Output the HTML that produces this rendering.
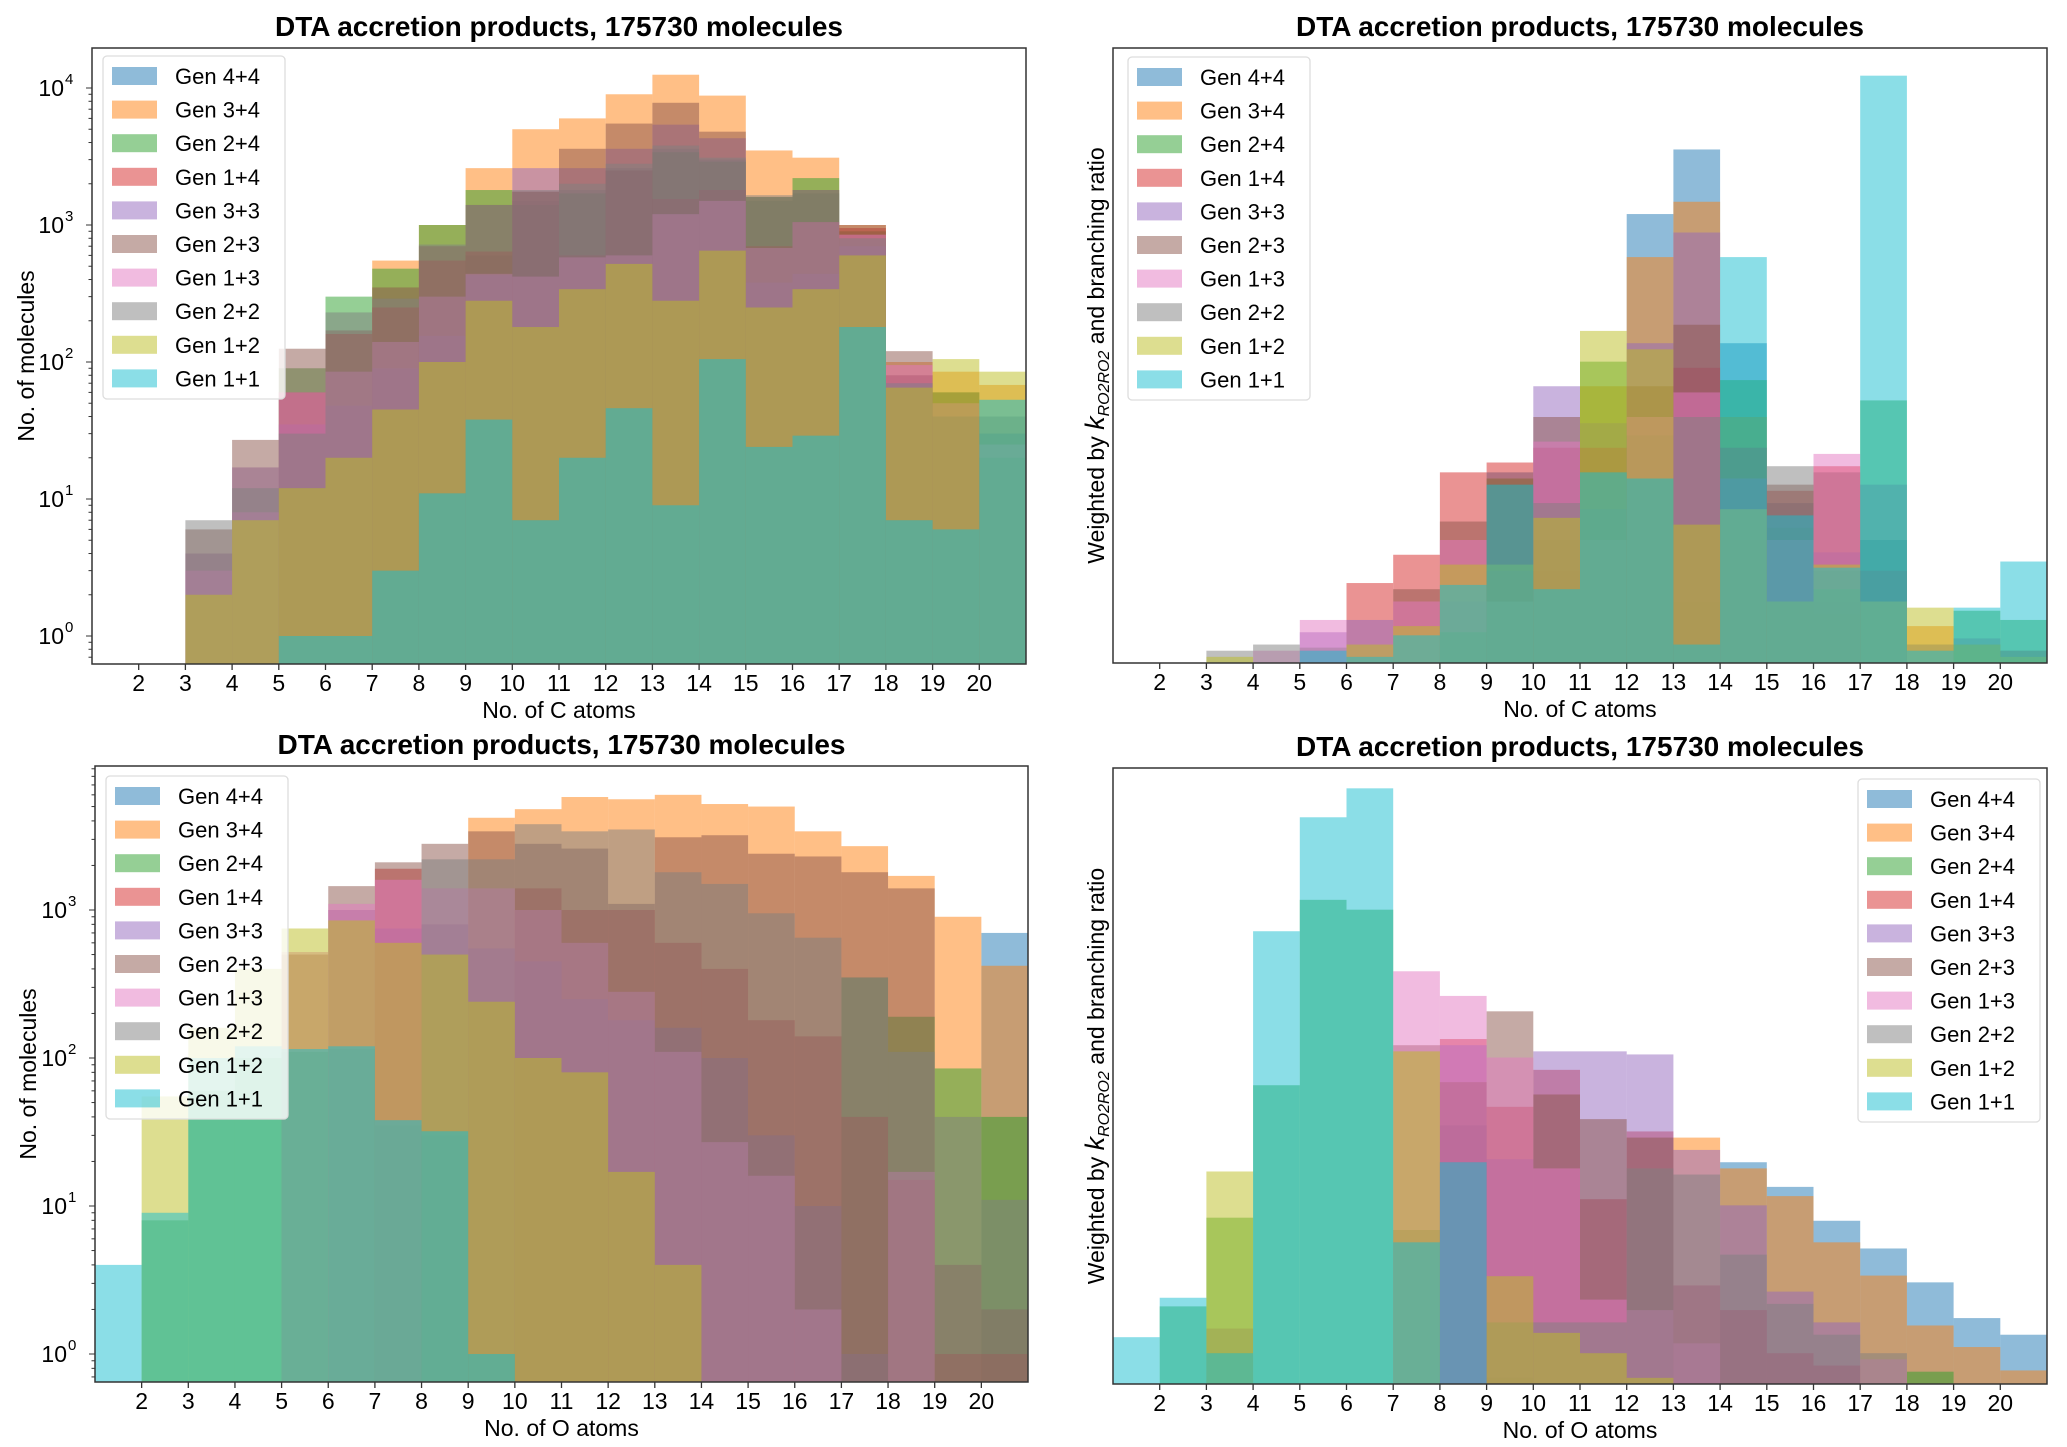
<!DOCTYPE html>
<html><head><meta charset="utf-8">
<style>
html,body{margin:0;padding:0;background:#fff;}
svg{display:block;font-family:"Liberation Sans",sans-serif;}
</style></head>
<body>
<svg id="fig" width="2067" height="1447" viewBox="0 0 2067 1447" xmlns="http://www.w3.org/2000/svg"></svg>
<script>
// ---------- data (bins 1..20) ----------
const labels = ["Gen 4+4","Gen 3+4","Gen 2+4","Gen 1+4","Gen 3+3","Gen 2+3","Gen 1+3","Gen 2+2","Gen 1+2","Gen 1+1"];
const colors = ["#1f77b4","#ff7f0e","#2ca02c","#d62728","#9467bd","#8c564b","#e377c2","#7f7f7f","#bcbd22","#17becf"];
const binStarts = [1,2,3,4,5,6,7,8,9,10,11,12,13,14,15,16,17,18,19,20];
const xTicks = [2,3,4,5,6,7,8,9,10,11,12,13,14,15,16,17,18,19,20];

// Top-left: C atoms, counts (log)
const cG44 = [0,0,0,0,0,0,0,300,600,1500,1800,2600,3600,3000,1500,1700,800,60,40,20];
const cG34 = [0,0,0,0,0,0,550,1000,2600,5000,6000,9000,12500,8800,3500,3100,1000,100,85,68];
const cG24 = [0,0,0,0,90,300,480,1000,1800,1400,1700,2500,3400,2900,1600,2200,900,80,60,30];
const cG14 = [0,0,0,0,60,160,250,550,640,1750,600,2500,1550,1800,700,1050,950,80,40,20];
const cG33 = [0,0,4,17,35,48,90,155,430,2600,2600,3600,5400,4300,380,440,700,70,40,30];
const cG23 = [0,0,6,27,125,170,350,700,1400,1750,3600,5500,7800,4800,1600,1800,1000,120,60,40];
const cG13 = [0,0,3,8,60,85,140,300,440,420,580,600,1200,1500,680,1050,850,95,50,25];
const cG22 = [0,0,7,12,30,230,290,720,1400,1800,2000,2800,3800,3100,1650,1800,800,70,40,20];
const cG12 = [0,0,2,7,12,20,45,100,280,180,340,520,280,650,250,340,600,65,105,85];
const cG11 = [0,0,0,0,1,1,3,11,38,7,20,46,9,105,24,29,180,7,6,53];

// Top-right: C atoms, weighted (relative units, 100 = axis top)
const cwG44 = [0,0,0,0,0,0,0,0,31,10,20,73,83.5,52,26,10,20,0,0,0];
const cwG34 = [0,0,0,0,0,0,0,5,10,15,45,66,75,40,20,8,0,6,3,2];
const cwG24 = [0,0,0,0,2.5,0,0,0,30,20,49,37,10,46,22,15,42.7,3,8.5,7];
const cwG14 = [0,0,0,0,0,13,17.6,31,32.6,35,35,30,48,20,28,32,0,0,0,0];
const cwG33 = [0,0,0,0,5,7,0,10,15,45,25,52,70,30,10,18,0,0,0,0];
const cwG23 = [0,0,0,0,0,0,12,23,15,40,25,45,55,35,29,31,15,0,0,0];
const cwG13 = [0,0,0,2,7,0,10,20,10,36,20,40,44,25,20,34,10,3,0,0];
const cwG22 = [0,0,2,3,0,0,0,5,10,26,39,30,40,30,32,12,29,0,4,2];
const cwG12 = [0,0,1,0,0,3,6,16,16,23.6,54,51,22.5,25,10,16,10,9,3,1];
const cwG11 = [0,0,0,0,2,1,4.5,12.7,29,12,31,30,3,66,24,15.5,95.5,2,9,16.5];

// Bottom-left: O atoms, counts (log)
const oG44 = [0,0,0,0,0,0,0,0,0,0,0,0,0,0,0,0,0,0,0,700];
const oG34 = [0,0,0,0,0,0,0,0,4200,4800,5800,5600,6000,5200,5000,3400,2700,1700,900,420];
const oG24 = [0,8,60,100,110,115,35,30,1,0,0,0,0,0,0,0,350,190,85,40];
const oG14 = [0,0,0,0,0,0,1900,0,0,1400,1000,1000,600,400,180,140,40,15,1,1];
const oG33 = [0,0,0,0,0,1000,750,800,550,450,250,180,160,100,30,10,1,0,0,0];
const oG23 = [0,0,0,0,500,1450,2100,2800,3400,2800,2600,1100,3100,3200,2400,2300,1800,1400,4,2];
const oG13 = [0,0,0,0,520,1100,1600,1400,1400,1000,600,280,110,27,16,2,0,17,0,0];
const oG22 = [0,0,0,0,0,0,0,2200,2200,3800,3400,3500,1800,1500,950,650,350,110,40,11];
const oG12 = [0,55,160,400,750,850,600,500,240,100,80,17,4,0,0,0,0,0,0,0];
const oG11 = [4,9,100,120,115,120,38,32,1,0,0,0,0,0,0,0,0,0,0,0];

// Bottom-right: O atoms, weighted (relative units)
const owG44 = [0,0,0,0,0,0,0,42,0,0,0,0,0,36,32,26.5,22,16.5,10.7,8];
const owG34 = [0,0,0,0,0,0,0,0,0,0,0,0,40,35,30.5,23,17.6,9.5,6,2.2];
const owG24 = [0,12.6,27,48.5,78.6,77,25,36,1,0,0,0,0,0,0,0,0,2,0,0];
const owG14 = [0,0,0,0,0,0,0,56,45,51,30,41,16,12,5,3,0,0,0,0];
const owG33 = [0,0,0,0,0,0,0,55,36.5,54,54,53.5,38,29,15,10,0,0,0,0];
const owG23 = [0,0,0,0,0,0,55,49,60.5,47,43,40,0,0,0,0,0,0,0,0];
const owG13 = [0,0,0,0,0,0,67,63,53,35,13.7,12,6.6,0,0,0,4,0,0,0];
const owG22 = [0,0,9,0,0,0,0,0,10,10,10,35,34,21,13,8,5,0,0,0];
const owG12 = [0,0,34.5,0,0,0,54,0,17.5,8.3,5,1,0,0,0,0,0,0,0,0];
const owG11 = [7.6,14,5,73.5,92,96.7,23,36,0,0,0,0,0,0,0,0,0,0,0,0];

const NS = "http://www.w3.org/2000/svg";
const svg = document.getElementById('fig');
function mk(tag, attrs, parent){
  const e = document.createElementNS(NS, tag);
  for (const k in attrs) e.setAttribute(k, attrs[k]);
  (parent||svg).appendChild(e);
  return e;
}

function panel(cfg){
  const g = mk('g', {});
  
  
  const L=cfg.left, R=cfg.right, T=cfg.top, B=cfg.bottom;
  const xs = v => L + (v-1)/20*(R-L);
  let ys;
  if (cfg.log){
    ys = v => cfg.y0 - Math.log10(v)*cfg.dec;
  } else {
    ys = v => B - v/100*(B-T);
  }
  const clip = mk('clipPath', {id: cfg.name+'-clip'}, g);
  mk('rect', {x:L, y:T, width:R-L, height:B-T}, clip);
  const bars = mk('g', {'clip-path':'url(#'+cfg.name+'-clip)'}, g);
  cfg.series.forEach((arr, si) => {
    arr.forEach((v, i) => {
      if (!(v > 0)) return;
      const x0 = xs(binStarts[i]), x1 = xs(binStarts[i]+1);
      const yTop = ys(v);
      const r = mk('rect', {x:x0, y:yTop, width:x1-x0, height:Math.max(0,B+2-yTop), fill:colors[si], 'fill-opacity':0.5}, bars);
      
      
    });
  });
  const fr = mk('rect', {x:L, y:T, width:R-L, height:B-T, fill:'none', stroke:'#333', 'stroke-width':1.5}, g);
  
  
  xTicks.forEach(t => {
    const x = xs(t);
    mk('line', {x1:x, y1:B, x2:x, y2:B+6, stroke:'#333', 'stroke-width':1.3}, g);
    const tx = mk('text', {x:x, y:B+27, 'font-size':23, 'text-anchor':'middle', fill:'#000'}, g);
    tx.textContent = t;
    
    
  });
  if (cfg.log){
    for (let d=-1; d<=5; d++){
      for (let m=1; m<10; m++){
        const v = m*Math.pow(10,d);
        const y = ys(v);
        if (y < T-0.5 || y > B+0.5) continue;
        mk('line', {x1:L-(m===1?6:3.5), y1:y, x2:L, y2:y, stroke:'#333', 'stroke-width':1}, g);
        if (m===1){
          const tx = mk('text', {x:L-28, y:y+8, 'font-size':23, 'text-anchor':'end', fill:'#000'}, g);
          tx.textContent = '10';
          
          
          const sp = mk('text', {x:L-27, y:y-4, 'font-size':15, 'text-anchor':'start', fill:'#000'}, g);
          sp.textContent = String(d);
        }
      }
    }
  }
  const ti = mk('text', {x:(L+R)/2, y:T-12, 'font-size':28, 'font-weight':'bold', 'text-anchor':'middle', fill:'#000'}, g);
  ti.textContent = 'DTA accretion products, 175730 molecules';
  
  
  const xl = mk('text', {x:(L+R)/2, y:B+54, 'font-size':23, 'text-anchor':'middle', fill:'#000'}, g);
  xl.textContent = cfg.xlabel;
  
  
  const cy = (T+B)/2;
  const yl = mk('text', {x:cfg.ylx, y:cy, 'font-size':23, 'text-anchor':'middle', fill:'#000', transform:'rotate(-90 '+cfg.ylx+' '+cy+')'}, g);
  
  
  if (cfg.log){ yl.textContent = 'No. of molecules'; }
  else {
    const a = mk('tspan', {}, yl); a.textContent = 'Weighted by ';
    const k = mk('tspan', {'font-style':'italic','font-size':27}, yl); k.textContent = 'k';
    const s = mk('tspan', {'font-style':'italic','font-size':16, dy:5}, yl); s.textContent = 'RO2RO2';
    const b = mk('tspan', {dy:-5}, yl); b.textContent = ' and branching ratio';
  }
  const lg = mk('g', {}, g);
  
  
  const lx = cfg.lx, ly = cfg.ly;
  mk('rect', {x:lx, y:ly, width:182, height:343, rx:4, fill:'#fff', 'fill-opacity':0.8, stroke:'#ddd', 'stroke-width':1.3}, lg);
  labels.forEach((lab, i) => {
    const yy = ly + 20 + i*33.6;
    const e = mk('g', {}, lg);
    
    
    mk('rect', {x:lx+9, y:yy-9, width:45, height:18, fill:colors[i], 'fill-opacity':0.5}, e);
    const t = mk('text', {x:lx+72, y:yy+8, 'font-size':22, fill:'#000'}, e);
    t.textContent = lab;
  });
}

panel({name:'panel-c-count', left:92, right:1026, top:48, bottom:664, log:true, y0:636, dec:137,
  series:[cG44,cG34,cG24,cG14,cG33,cG23,cG13,cG22,cG12,cG11], xlabel:'No. of C atoms', ylx:34, lx:103, ly:56});
panel({name:'panel-c-weighted', left:1113, right:2047, top:48, bottom:663, log:false,
  series:[cwG44,cwG34,cwG24,cwG14,cwG33,cwG23,cwG13,cwG22,cwG12,cwG11], xlabel:'No. of C atoms', ylx:1104, lx:1128, ly:57});
panel({name:'panel-o-count', left:95, right:1028, top:766, bottom:1382, log:true, y0:1354, dec:148,
  series:[oG44,oG34,oG24,oG14,oG33,oG23,oG13,oG22,oG12,oG11], xlabel:'No. of O atoms', ylx:36, lx:106, ly:776});
panel({name:'panel-o-weighted', left:1113, right:2047, top:768, bottom:1384, log:false,
  series:[owG44,owG34,owG24,owG14,owG33,owG23,owG13,owG22,owG12,owG11], xlabel:'No. of O atoms', ylx:1104, lx:1858, ly:779});
</script>
</body></html>
